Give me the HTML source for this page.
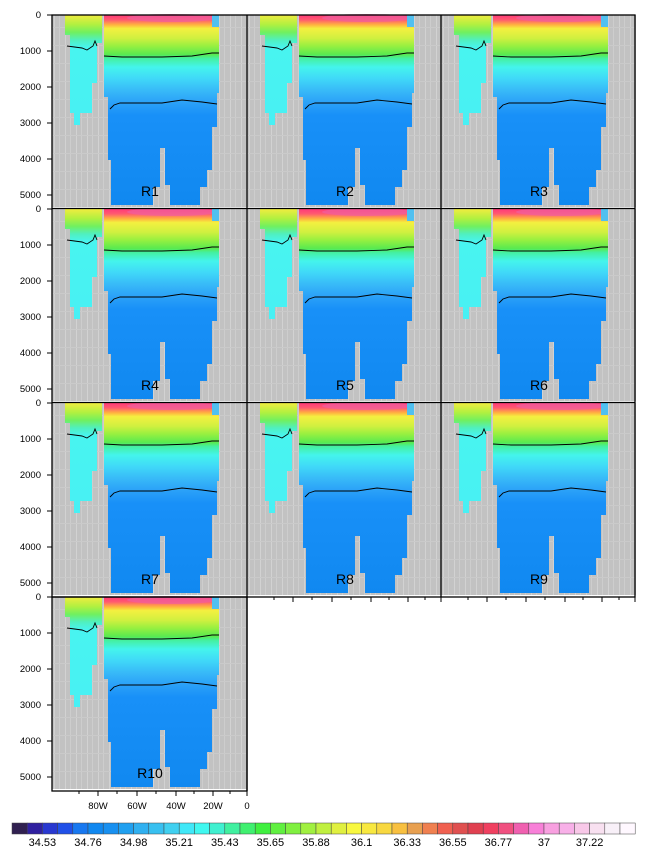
<!DOCTYPE html>
<html><head><meta charset="utf-8"><style>
body{margin:0;background:#fff;width:648px;height:858px;overflow:hidden}
svg{display:block;font-family:"Liberation Sans",sans-serif}
</style></head><body>
<svg width="648" height="858" viewBox="0 0 648 858" xmlns="http://www.w3.org/2000/svg">
<defs>
<pattern id="gp" width="11" height="18" patternUnits="userSpaceOnUse">
<rect width="11" height="18" fill="#c2c2c2"/>
<rect x="2" width="1" height="18" fill="#d2d2d2"/>
<rect x="7" width="1" height="18" fill="#cdcdcd"/>
<rect y="12" width="11" height="1" fill="#cacaca"/>
</pattern>
<linearGradient id="mg" x1="0" y1="0" x2="0" y2="193" gradientUnits="userSpaceOnUse">
<stop offset="0" stop-color="#ff3a78"/>
<stop offset="0.025" stop-color="#ff5a70"/>
<stop offset="0.05" stop-color="#ffb040"/>
<stop offset="0.07" stop-color="#f4f040"/>
<stop offset="0.12" stop-color="#d0f040"/>
<stop offset="0.16" stop-color="#98f040"/>
<stop offset="0.205" stop-color="#58ea50"/>
<stop offset="0.225" stop-color="#44f0a0"/>
<stop offset="0.27" stop-color="#44f4ec"/>
<stop offset="0.33" stop-color="#40d8f8"/>
<stop offset="0.39" stop-color="#38baf8"/>
<stop offset="0.45" stop-color="#2ca2f8"/>
<stop offset="0.52" stop-color="#1890f8"/>
<stop offset="1" stop-color="#1088f0"/>
</linearGradient>
<linearGradient id="wg" x1="0" y1="0" x2="0" y2="193" gradientUnits="userSpaceOnUse">
<stop offset="0" stop-color="#f0ec40"/>
<stop offset="0.05" stop-color="#b0f040"/>
<stop offset="0.09" stop-color="#70f060"/>
<stop offset="0.13" stop-color="#50f0c0"/>
<stop offset="0.17" stop-color="#48f4f0"/>
<stop offset="1" stop-color="#48ecf8"/>
</linearGradient>
<g id="pan">
<rect x="0" y="0" width="195" height="192" fill="url(#gp)"/>
<polygon fill="url(#wg)" points="13,0 50,0 50,28 45,28 45,68 40,68 40,98 28,98 28,110 22,110 22,98 18,98 18,20 13,20"/>
<polygon fill="url(#mg)" points="52,0 167,0 167,78 165,78 165,112 160,112 160,155 155,155 155,172 148,172 148,190 118,190 118,170 113,170 113,133 108,133 108,172 101,172 101,190 59,190 59,145 56,145 56,82 52,82"/>
<ellipse cx="120" cy="3" rx="45" ry="4" fill="#f060a0" opacity="0.7"/>
<rect x="160" y="0" width="7" height="12" fill="#50c0f0"/>
<path d="M52,41 L70,42 L110,42 L140,41 L160,38 L167,38" fill="none" stroke="#000" stroke-width="0.9"/>
<path d="M58,94 L62,90 L68,88 L110,88 L130,85 L150,87 L165,89" fill="none" stroke="#000" stroke-width="0.9"/>
<path d="M15,31 L30,33 L35,35 L41,31 L43,26 L45,31" fill="none" stroke="#000" stroke-width="0.9"/>
</g>
</defs>

<use href="#pan" x="52" y="15"/>
<use href="#pan" x="247" y="15"/>
<use href="#pan" x="441" y="15"/>
<use href="#pan" x="52" y="209"/>
<use href="#pan" x="247" y="209"/>
<use href="#pan" x="441" y="209"/>
<use href="#pan" x="52" y="403"/>
<use href="#pan" x="247" y="403"/>
<use href="#pan" x="441" y="403"/>
<use href="#pan" x="52" y="597"/>

<g fill="none" stroke="#000" stroke-width="1.3">
<rect x="52" y="15" width="583" height="582"/>
<line x1="247" y1="15" x2="247" y2="791"/>
<line x1="441" y1="15" x2="441" y2="597"/>
<line x1="52" y1="208.5" x2="635" y2="208.5"/>
<line x1="52" y1="402.5" x2="635" y2="402.5"/>
<rect x="52" y="597" width="195" height="194"/>
</g>

<g stroke="#000" stroke-width="1">
<path d="M47,15H52M47,51H52M47,87H52M47,123H52M47,159H52M47,195H52
M47,209H52M47,245H52M47,281H52M47,317H52M47,353H52M47,389H52
M47,403H52M47,439H52M47,475H52M47,511H52M47,547H52M47,583H52
M47,597H52M47,633H52M47,669H52M47,705H52M47,741H52M47,777H52"/>
</g>
<g font-size="9.5" text-anchor="end" fill="#000">
<text x="41" y="18">0</text><text x="41" y="54">1000</text><text x="41" y="90">2000</text><text x="41" y="126">3000</text><text x="41" y="162">4000</text><text x="41" y="198">5000</text>
<text x="41" y="212">0</text><text x="41" y="248">1000</text><text x="41" y="284">2000</text><text x="41" y="320">3000</text><text x="41" y="356">4000</text><text x="41" y="392">5000</text>
<text x="41" y="406">0</text><text x="41" y="442">1000</text><text x="41" y="478">2000</text><text x="41" y="514">3000</text><text x="41" y="550">4000</text><text x="41" y="586">5000</text>
<text x="41" y="600">0</text><text x="41" y="636">1000</text><text x="41" y="672">2000</text><text x="41" y="708">3000</text><text x="41" y="744">4000</text><text x="41" y="780">5000</text>
</g>

<g stroke="#000" stroke-width="1">
<path d="M98,791v5M137,791v5M176,791v5M213,791v5M247,791v5M79,791v3M117,791v3M156,791v3M194,791v3M230,791v3"/>
<path d="M293,597v5M332,597v5M371,597v5M408,597v5M441,597v5M274,597v3M312,597v3M351,597v3M389,597v3M425,597v3"/>
<path d="M487,597v5M526,597v5M565,597v5M602,597v5M635,597v5M468,597v3M506,597v3M545,597v3M583,597v3M619,597v3"/>
</g>
<g font-size="9.5" text-anchor="middle">
<text x="98" y="809">80W</text><text x="137" y="809">60W</text><text x="176" y="809">40W</text><text x="213" y="809">20W</text><text x="247" y="809">0</text>
</g>

<g font-size="14" text-anchor="middle">
<text x="150" y="196">R1</text><text x="345" y="196">R2</text><text x="539" y="196">R3</text>
<text x="150" y="390">R4</text><text x="345" y="390">R5</text><text x="539" y="390">R6</text>
<text x="150" y="584">R7</text><text x="345" y="584">R8</text><text x="539" y="584">R9</text>
<text x="150" y="778">R10</text>
</g>

<g stroke="#444" stroke-width="0.5">
<rect x="12" y="823" width="15.2" height="11" fill="#302050"/>
<rect x="27.2" y="823" width="15.2" height="11" fill="#3020a0"/>
<rect x="42.4" y="823" width="15.2" height="11" fill="#2838d0"/>
<rect x="57.6" y="823" width="15.2" height="11" fill="#2050e8"/>
<rect x="72.8" y="823" width="15.2" height="11" fill="#1878f0"/>
<rect x="88" y="823" width="15.2" height="11" fill="#1088f0"/>
<rect x="103.2" y="823" width="15.2" height="11" fill="#1890f0"/>
<rect x="118.4" y="823" width="15.2" height="11" fill="#20a0f0"/>
<rect x="133.6" y="823" width="15.2" height="11" fill="#30b0f0"/>
<rect x="148.8" y="823" width="15.2" height="11" fill="#38c0f0"/>
<rect x="164" y="823" width="15.2" height="11" fill="#40d0f0"/>
<rect x="179.2" y="823" width="15.2" height="11" fill="#40e8f8"/>
<rect x="194.4" y="823" width="15.2" height="11" fill="#40f8f0"/>
<rect x="209.6" y="823" width="15.2" height="11" fill="#40f0d0"/>
<rect x="224.8" y="823" width="15.2" height="11" fill="#40f0a0"/>
<rect x="240" y="823" width="15.2" height="11" fill="#40f070"/>
<rect x="255.2" y="823" width="15.2" height="11" fill="#40f040"/>
<rect x="270.4" y="823" width="15.2" height="11" fill="#60f040"/>
<rect x="285.6" y="823" width="15.2" height="11" fill="#80f040"/>
<rect x="300.8" y="823" width="15.2" height="11" fill="#a0f040"/>
<rect x="316" y="823" width="15.2" height="11" fill="#c0f040"/>
<rect x="331.2" y="823" width="15.2" height="11" fill="#e0f040"/>
<rect x="346.4" y="823" width="15.2" height="11" fill="#f8f840"/>
<rect x="361.6" y="823" width="15.2" height="11" fill="#f8e840"/>
<rect x="376.8" y="823" width="15.2" height="11" fill="#f8d840"/>
<rect x="392" y="823" width="15.2" height="11" fill="#f8c040"/>
<rect x="407.2" y="823" width="15.2" height="11" fill="#e8a050"/>
<rect x="422.4" y="823" width="15.2" height="11" fill="#f08050"/>
<rect x="437.6" y="823" width="15.2" height="11" fill="#f06050"/>
<rect x="452.8" y="823" width="15.2" height="11" fill="#e05050"/>
<rect x="468" y="823" width="15.2" height="11" fill="#e04050"/>
<rect x="483.2" y="823" width="15.2" height="11" fill="#f04060"/>
<rect x="498.4" y="823" width="15.2" height="11" fill="#f05080"/>
<rect x="513.6" y="823" width="15.2" height="11" fill="#f060b0"/>
<rect x="528.8" y="823" width="15.2" height="11" fill="#f880d8"/>
<rect x="544" y="823" width="15.2" height="11" fill="#f8a0e0"/>
<rect x="559.2" y="823" width="15.2" height="11" fill="#f8b0e8"/>
<rect x="574.4" y="823" width="15.2" height="11" fill="#f8c8e8"/>
<rect x="589.6" y="823" width="15.2" height="11" fill="#f8e0f0"/>
<rect x="604.8" y="823" width="15.2" height="11" fill="#f8f0f8"/>
<rect x="620" y="823" width="15.2" height="11" fill="#fff8ff"/>
</g>
<g font-size="11" text-anchor="middle">
<text x="42.4" y="846">34.53</text><text x="88" y="846">34.76</text><text x="133.6" y="846">34.98</text><text x="179.2" y="846">35.21</text><text x="224.8" y="846">35.43</text><text x="270.4" y="846">35.65</text><text x="316" y="846">35.88</text><text x="361.6" y="846">36.1</text><text x="407.2" y="846">36.33</text><text x="452.8" y="846">36.55</text><text x="498.4" y="846">36.77</text><text x="544" y="846">37</text><text x="589.6" y="846">37.22</text>
</g>
</svg>
</body></html>
